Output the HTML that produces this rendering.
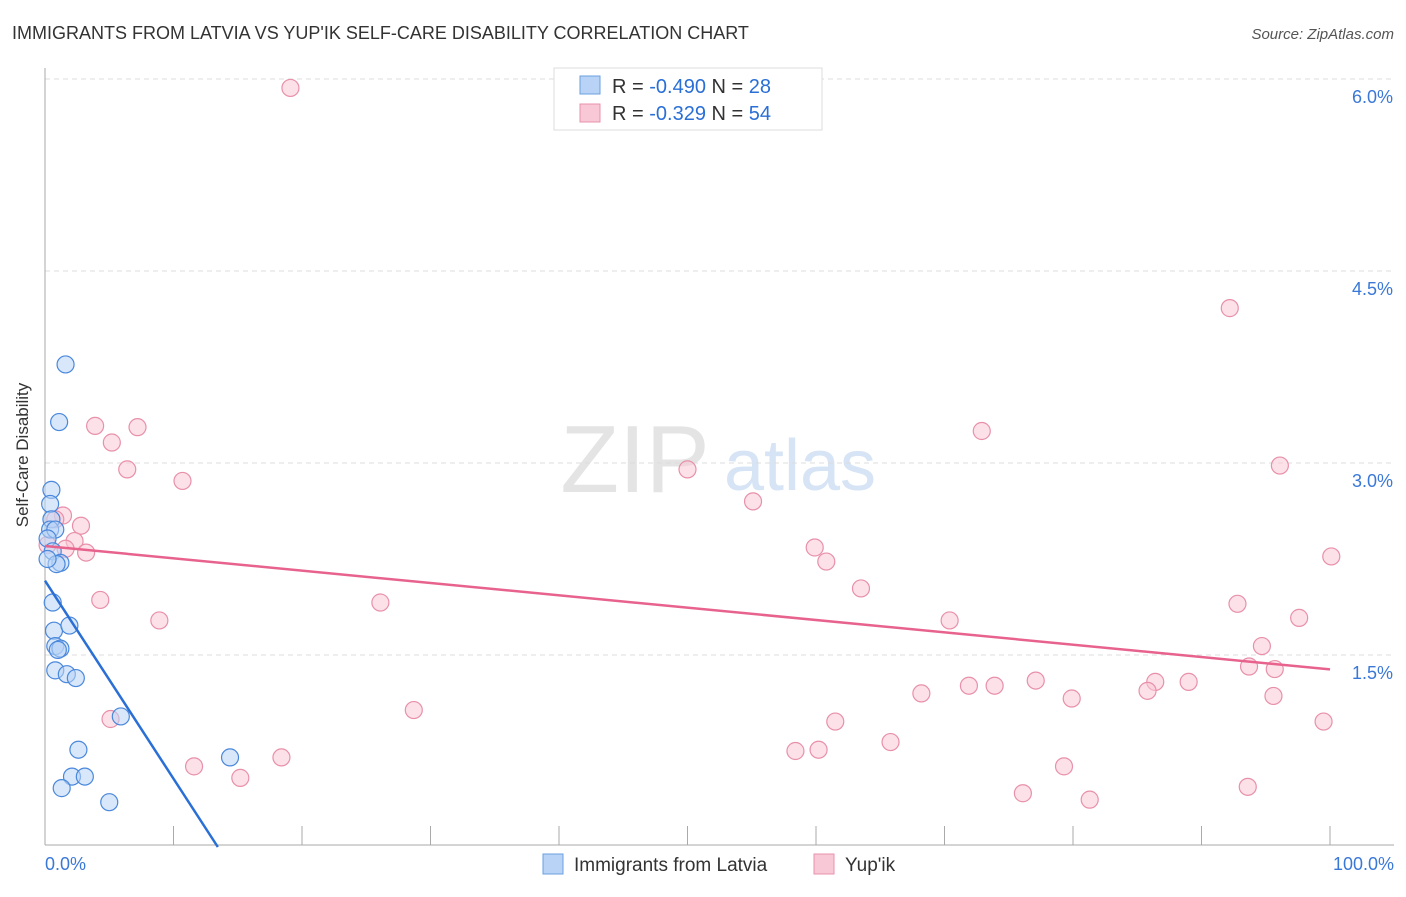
<!DOCTYPE html>
<html><head><meta charset="utf-8"><style>
body{margin:0;background:#fff;font-family:"Liberation Sans",sans-serif;}
svg text{font-family:"Liberation Sans",sans-serif;}
</style></head><body>
<svg id="chart" width="1406" height="892" xmlns="http://www.w3.org/2000/svg">
<text x="12" y="39" font-size="18" fill="#333">IMMIGRANTS FROM LATVIA VS YUP'IK SELF-CARE DISABILITY CORRELATION CHART</text>
<text x="1394" y="39" font-size="15" fill="#555" text-anchor="end" font-style="italic">Source: ZipAtlas.com</text>
<text x="28" y="455" font-size="17" fill="#333" text-anchor="middle" transform="rotate(-90 28 455)">Self-Care Disability</text>
<text x="635" y="492" font-size="96" fill="#e4e4e4" font-family="Liberation Serif" text-anchor="middle">ZIP</text>
<text x="800" y="490" font-size="72" fill="#d6e4f5" text-anchor="middle">atlas</text>
<g id="grid"></g><g id="axes"></g><g id="marks"></g>
<g>
<rect x="554" y="68" width="268" height="62" fill="#fff" stroke="#ddd"/>
<rect x="580" y="76" width="20" height="18" fill="#b8d3f5" stroke="#6a9fe0"/>
<text x="612" y="93" font-size="20" fill="#333">R = <tspan fill="#2a6fd6">-0.490</tspan>   N = <tspan fill="#2a6fd6">28</tspan></text>
<rect x="580" y="104" width="20" height="18" fill="#f9c8d6" stroke="#e890aa"/>
<text x="612" y="120" font-size="20" fill="#333">R =  <tspan fill="#2a6fd6">-0.329</tspan>   N = <tspan fill="#2a6fd6">54</tspan></text>
</g>
<g>
<rect x="543" y="854" width="20" height="20" fill="#b8d3f5" stroke="#6a9fe0"/>
<text x="574" y="871" font-size="19" fill="#333">Immigrants from Latvia</text>
<rect x="814" y="854" width="20" height="20" fill="#f9c8d6" stroke="#e890aa"/>
<text x="845" y="871" font-size="19" fill="#333">Yup'ik</text>
</g>
</svg>
<script>
const yTicks=[1.5,3.0,4.5,6.0];
const xTickLabels=["0.0%","100.0%"];
const latviaX=[1.6,1.1,0.5,0.4,0.5,0.4,0.8,0.2,0.6,1.2,0.9,0.6,0.7,1.9,0.8,1.2,1.0,0.8,1.7,2.4,5.9,2.6,2.1,3.1,1.3,5.0,14.4,0.2];
const latviaY=[3.77,3.32,2.79,2.68,2.56,2.48,2.48,2.41,2.31,2.22,2.21,1.91,1.69,1.73,1.57,1.55,1.54,1.38,1.35,1.32,1.02,0.76,0.55,0.55,0.46,0.35,0.70,2.25];
const yupikX=[19.1,3.9,7.2,5.2,6.4,10.7,1.4,2.8,2.3,1.6,3.2,0.2,4.3,8.9,26.1,28.7,5.1,11.6,15.2,18.4,50.0,55.1,59.9,60.8,63.5,70.4,72.9,92.2,96.1,100.1,92.8,97.6,94.7,93.7,95.7,77.1,71.9,73.9,68.2,79.9,86.4,85.8,89.0,95.6,99.5,61.5,65.8,58.4,60.2,79.3,76.1,81.3,93.6,0.8];
const yupikY=[5.93,3.29,3.28,3.16,2.95,2.86,2.59,2.51,2.39,2.33,2.30,2.36,1.93,1.77,1.91,1.07,1.00,0.63,0.54,0.70,2.95,2.70,2.34,2.23,2.02,1.77,3.25,4.21,2.98,2.27,1.90,1.79,1.57,1.41,1.39,1.30,1.26,1.26,1.20,1.16,1.29,1.22,1.29,1.18,0.98,0.98,0.82,0.75,0.76,0.63,0.42,0.37,0.47,2.56];
const NS="http://www.w3.org/2000/svg";
const X=v=>45+v/100*1285, Y=v=>847-v*128;
function mk(tag,attrs,parent){const e=document.createElementNS(NS,tag);for(const k in attrs)e.setAttribute(k,attrs[k]);parent.appendChild(e);return e;}
const grid=document.getElementById('grid'),axes=document.getElementById('axes'),marks=document.getElementById('marks');
yTicks.forEach(t=>{
 const l=mk('line',{x1:45,x2:1394,y1:Y(t),y2:Y(t),stroke:'#ddd','stroke-dasharray':'5,4'},grid);
 
 
 const tx=mk('text',{x:1393,y:Y(t)+24,'font-size':18,fill:'#3a78d8','text-anchor':'end'},axes);
 tx.textContent=t.toFixed(1)+'%';
 
 
});
const ax=mk('line',{x1:45,x2:45,y1:68,y2:845,stroke:'#aaa'},axes);


const bx=mk('line',{x1:45,x2:1394,y1:845,y2:845,stroke:'#aaa'},axes);


for(let i=0;i<=10;i++){const t=mk('line',{x1:X(i*10),x2:X(i*10),y1:826,y2:845,stroke:'#aaa'},axes);
 
 }
[[0,45,'start'],[1,1394,'end']].forEach(([i,x,a])=>{const t=mk('text',{x:x,y:870,'font-size':18,fill:'#3a78d8','text-anchor':a},axes);t.textContent=xTickLabels[i];
 
 });
function fit(xs,ys){const n=xs.length;let mx=0,my=0;xs.forEach((v,i)=>{mx+=v;my+=ys[i]});mx/=n;my/=n;let sxy=0,sxx=0;xs.forEach((v,i)=>{sxy+=(v-mx)*(ys[i]-my);sxx+=(v-mx)*(v-mx)});const b=sxy/sxx;return [my-b*mx,b];}
function dots(xs,ys,fill,stroke,name){xs.forEach((v,i)=>{const c=mk('circle',{cx:X(v),cy:Y(ys[i]),r:8.5,fill:fill,'fill-opacity':0.55,stroke:stroke,'stroke-width':1.2},marks);
 
 });}
dots(yupikX,yupikY,'#f9c8d6','#e890aa','yupik-point');
dots(latviaX,latviaY,'#b8d3f5','#4a88dc','latvia-point');
let [a,b]=fit(yupikX,yupikY);
const pl=mk('line',{x1:X(0),y1:Y(a),x2:X(100),y2:Y(a+b*100),stroke:'#e8628e','stroke-width':2.5},marks);


[a,b]=fit(latviaX,latviaY);
const xe=-a/b;
const bl=mk('line',{x1:X(0),y1:Y(a),x2:X(xe),y2:Y(0),stroke:'#2a6fd6','stroke-width':2.5},marks);


</script>
</body></html>
